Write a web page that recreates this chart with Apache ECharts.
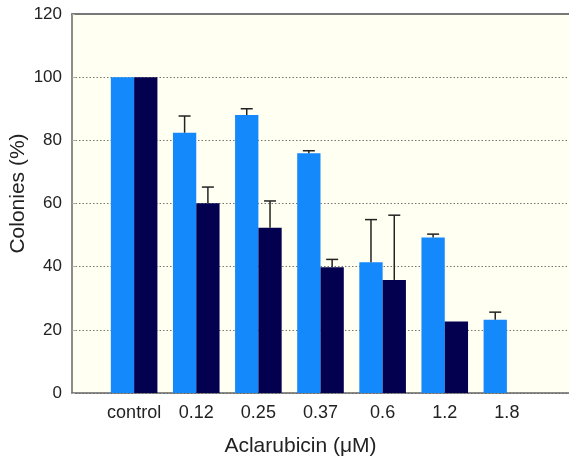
<!DOCTYPE html>
<html>
<head>
<meta charset="utf-8">
<script src="https://cdn.jsdelivr.net/npm/echarts@6/dist/echarts.min.js"></script>
<style>
html,body{margin:0;padding:0;background:#fff;}
#chart{width:569px;height:458px;}
</style>
</head>
<body>
<div id="chart"></div>
<script>
var categories = ['control', '0.12', '0.25', '0.37', '0.6', '1.2', '1.8'];
var lightValues = [100, 82.4, 88.0, 75.9, 41.4, 49.2, 23.2];
var lightErrTop = [null, 87.7, 90.0, 76.7, 54.9, 50.3, 25.6];
var darkValues = [100, 60.1, 52.3, 39.8, 35.8, 22.6, null];
var darkErrTop = [null, 65.2, 60.8, 42.3, 56.3, null, null];
var yTicks = [0, 20, 40, 60, 80, 100, 120];

var axisCats = [''].concat(categories).concat(['']);
function pad(a) { return [null].concat(a).concat([null]); }

var GAP = 0.25;
var lightColor = '#1389fb';
var darkColor = '#03004f';
var FONT = 'Liberation Sans, Arial, sans-serif';

function errData(vals, tops) {
  var out = [];
  for (var i = 0; i < vals.length; i++) {
    if (tops[i] != null && vals[i] != null) out.push([i + 1, vals[i], tops[i]]);
  }
  return out;
}

function errRender(side) {
  return function (params, api) {
    var band = api.size([1, 0])[0];
    var bw = band * (1 - GAP) / 2;
    var c0 = api.coord([api.value(0), api.value(1)]);
    var c1 = api.coord([api.value(0), api.value(2)]);
    var x = c0[0] + side * bw / 2;
    var cap = 6;
    var st = { stroke: '#222', lineWidth: 1.5 };
    return {
      type: 'group',
      children: [
        { type: 'line', shape: { x1: x, y1: c0[1], x2: x, y2: c1[1] }, style: st },
        { type: 'line', shape: { x1: x - cap, y1: c1[1], x2: x + cap, y2: c1[1] }, style: st }
      ]
    };
  };
}

var chart = echarts.init(document.getElementById('chart'));
chart.setOption({
  animation: false,
  grid: { left: 72, top: 14, right: 0, bottom: 65, show: true, backgroundColor: '#fffff2', borderWidth: 0, containLabel: false, outerBoundsMode: 'none' },
  xAxis: [{
    type: 'category',
    data: axisCats,
    boundaryGap: false,
    axisLine: { lineStyle: { color: '#666', width: 1.5 } },
    axisTick: { show: false },
    axisLabel: { color: '#222', fontSize: 18, fontFamily: FONT, margin: 11, interval: 0 },
    splitLine: { show: false },
    name: 'Aclarubicin (μM)',
    nameLocation: 'middle',
    nameGap: 43,
    nameMoveOverlap: false,
    nameTextStyle: { color: '#222', fontSize: 21, fontFamily: FONT, padding: [0, 40, 0, 0] }
  }, {
    type: 'category',
    position: 'top',
    data: axisCats,
    boundaryGap: false,
    axisLine: { lineStyle: { color: '#777', width: 2 } },
    axisTick: { show: false },
    axisLabel: { show: false }
  }],
  yAxis: {
    type: 'value',
    min: yTicks[0],
    max: yTicks[yTicks.length - 1],
    interval: 20,
    axisLine: { show: true, lineStyle: { color: '#666', width: 1.5 } },
    axisTick: { show: true, inside: true, length: 3, lineStyle: { color: '#aaa' } },
    axisLabel: { color: '#222', fontSize: 17, fontFamily: FONT, margin: 10 },
    splitLine: { show: true, lineStyle: { type: [1.5, 2], color: '#777', width: 1 } },
    name: 'Colonies (%)',
    nameLocation: 'middle',
    nameGap: 43,
    nameMoveOverlap: false,
    nameTextStyle: { color: '#222', fontSize: 21, fontFamily: FONT, padding: [0, 0, 0, 20] }
  },
  series: [{
    type: 'bar',
    data: pad(lightValues),
    barGap: '0%',
    barCategoryGap: (GAP * 100) + '%',
    itemStyle: { color: lightColor },
    z: 2
  }, {
    type: 'bar',
    data: pad(darkValues),
    barGap: '0%',
    barCategoryGap: (GAP * 100) + '%',
    itemStyle: { color: darkColor },
    z: 2
  }, {
    type: 'custom',
    renderItem: errRender(-1),
    data: errData(lightValues, lightErrTop),
    encode: { x: 0, y: [1, 2] },
    z: 3
  }, {
    type: 'custom',
    renderItem: errRender(1),
    data: errData(darkValues, darkErrTop),
    encode: { x: 0, y: [1, 2] },
    z: 3
  }]
});
</script>
</body>
</html>
